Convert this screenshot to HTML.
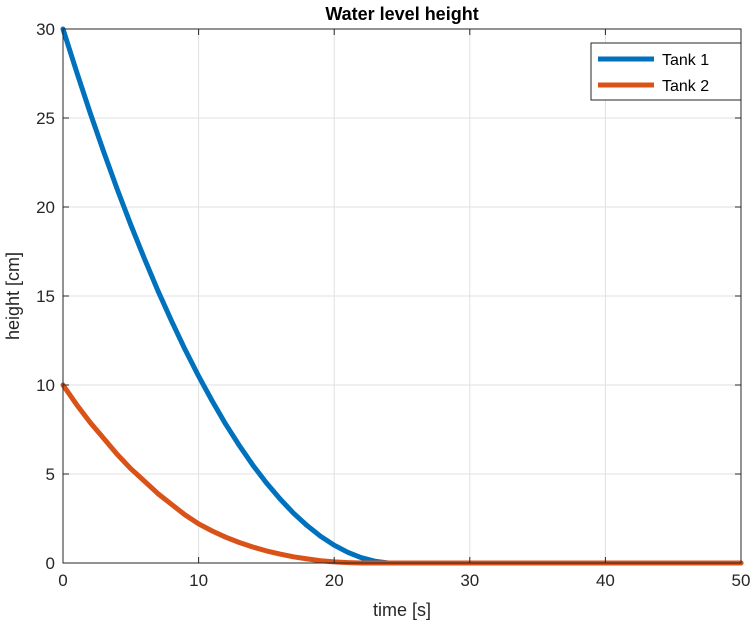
<!DOCTYPE html>
<html><head><meta charset="utf-8"><style>
body{margin:0;background:#fff;font-family:"Liberation Sans",Arial,sans-serif;}
svg text{font-family:"Liberation Sans",Arial,sans-serif;}
</style></head><body>
<svg id="chart" width="755" height="630" viewBox="0 0 755 630" xmlns="http://www.w3.org/2000/svg">
<rect width="755" height="630" fill="#fff"/>
<g id="grid"></g>
<g id="series"></g>
<rect x="63" y="29" width="678" height="534" fill="none" stroke="#262626" stroke-width="1"/>
<g id="ticks"></g>
<text x="402" y="20" text-anchor="middle" font-size="18" font-weight="bold" fill="#000">Water level height</text>
<text x="402" y="616" text-anchor="middle" font-size="18" fill="#262626">time [s]</text>
<text transform="translate(19,296) rotate(-90)" text-anchor="middle" font-size="18" fill="#262626">height [cm]</text>
<g>
<rect x="591" y="43" width="150" height="57" fill="#fff" stroke="#262626" stroke-width="1"/>
<g>
<line x1="598" y1="59" x2="654" y2="59" stroke="#0072BD" stroke-width="5"/>
<text x="662" y="65" font-size="16" fill="#000">Tank 1</text></g>
<g>
<line x1="598" y1="85" x2="654" y2="85" stroke="#D95319" stroke-width="5"/>
<text x="662" y="91" font-size="16" fill="#000">Tank 2</text></g>
</g>
</svg>
<script>
const times=[0,1,2,3,4,5,6,7,8,9,10,11,12,13,14,15,16,17,18,19,20,21,22,23,24,25,30,35,40,45,50];
const tank1=[30,27.6,25.3,23.1,21.0,19.0,17.1,15.3,13.6,12.0,10.5,9.1,7.8,6.6,5.5,4.5,3.6,2.8,2.1,1.5,1.0,0.6,0.3,0.1,0.0,0,0,0,0,0,0];
const tank2=[10,8.9,7.9,7.0,6.1,5.3,4.6,3.9,3.3,2.7,2.2,1.8,1.45,1.15,0.9,0.68,0.5,0.35,0.23,0.13,0.06,0.02,0,0,0,0,0,0,0,0,0];
const xTicks=[0,10,20,30,40,50];
const yTicks=[0,5,10,15,20,25,30];
const X0=63,X1=741,Y0=563,Y1=29;
const xs=v=>X0+(v-0)/50*(X1-X0);
const ys=v=>Y0-(v-0)/30*(Y0-Y1);
const NS="http://www.w3.org/2000/svg";
const grid=document.getElementById('grid'),ticks=document.getElementById('ticks'),series=document.getElementById('series');
function mk(tag,attrs,parent){const e=document.createElementNS(NS,tag);for(const k in attrs)e.setAttribute(k,attrs[k]);parent.appendChild(e);return e;}
xTicks.forEach(t=>{
 const x=xs(t);
 const g=mk('line',{x1:x,x2:x,y1:Y1,y2:Y0,stroke:'#e0e0e0','stroke-width':1},grid);
 
 
 mk('line',{x1:x,x2:x,y1:Y0,y2:Y0-6,stroke:'#262626'},ticks);
 mk('line',{x1:x,x2:x,y1:Y1,y2:Y1+6,stroke:'#262626'},ticks);
 const l=mk('text',{x:x,y:Y0+23,'text-anchor':'middle','font-size':17,fill:'#262626'},ticks);
 l.textContent=t;
 
 
});
yTicks.forEach(t=>{
 const y=ys(t);
 const g=mk('line',{x1:X0,x2:X1,y1:y,y2:y,stroke:'#e0e0e0','stroke-width':1},grid);
 
 
 mk('line',{x1:X0,x2:X0+6,y1:y,y2:y,stroke:'#262626'},ticks);
 mk('line',{x1:X1,x2:X1-6,y1:y,y2:y,stroke:'#262626'},ticks);
 const l=mk('text',{x:X0-8,y:y+6,'text-anchor':'end','font-size':17,fill:'#262626'},ticks);
 l.textContent=t;
 
 
});
function line(vals,color,name){
 const d=times.map((t,i)=>(i?'L':'M')+xs(t).toFixed(1)+' '+ys(vals[i]).toFixed(1)).join(' ');
 const p=mk('path',{d:d,fill:'none',stroke:color,'stroke-width':5,'stroke-linejoin':'round','stroke-linecap':'round'},series);
 
 
}
line(tank1,'#0072BD','tank-1-line');
line(tank2,'#D95319','tank-2-line');
</script>
</body></html>
